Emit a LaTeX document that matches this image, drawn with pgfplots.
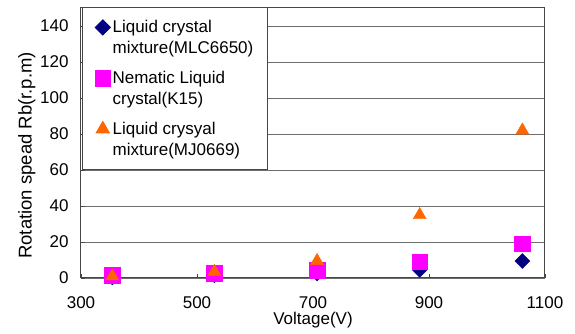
\documentclass[border=0pt]{standalone}
\usepackage{fontspec}
\setmainfont{Liberation Sans}
\usepackage{pgfplots}
\pgfplotsset{compat=1.18}
\definecolor{navyc}{RGB}{0,0,128}
\definecolor{magc}{RGB}{255,0,255}
\definecolor{orc}{RGB}{255,102,0}
\definecolor{gridc}{RGB}{110,110,110}
\definecolor{axc}{RGB}{70,70,70}
\begin{document}
\begin{tikzpicture}[x=1pt,y=1pt]
\path[use as bounding box] (0,0) rectangle (575,334);
\begin{axis}[
  at={(81pt,56pt)}, anchor=south west,
  scale only axis, width=464pt, height=270pt,
  xmin=300, xmax=1100, ymin=0, ymax=150,
  xtick={300,500,...,1100}, ytick={0,20,...,140},
  xtick pos=left, ytick pos=left,
  tick align=inside, major tick length=4pt,
  ymajorgrids, grid style={gridc, line width=0.8pt},
  axis line style={axc, line width=1pt},
  tick style={axc, line width=0.8pt},
  /pgf/number format/assume math mode=true,
  /pgf/number format/1000 sep={},
  ticklabel style={font=\fontsize{17}{20}\selectfont},
  xticklabel style={yshift=-15pt},
  yticklabel style={xshift=-9pt},
  xlabel={Voltage(V)}, ylabel={Rotation spead Rb(r.p.m)},
  label style={font=\fontsize{17}{20}\selectfont},
  xlabel style={at={(axis description cs:0.5,-0.1185)}, anchor=north, inner ysep=2pt},
  ylabel style={at={(axis description cs:-0.0905,0.454)}, anchor=south, font=\fontsize{18.5}{21}\selectfont},
  clip=false,
  legend cell align=left,
  legend style={at={(axis description cs:0,1)}, anchor=north west, xshift=1pt, yshift=1pt,
    draw=axc, line width=1pt, fill=white,
    font=\fontsize{17}{21}\selectfont,
    inner xsep=12.5pt, inner ysep=11pt, row sep=12pt,
    cells={align=left, inner xsep=2pt, inner ysep=0.5pt}},
  legend image code/.code={\draw[#1] plot coordinates {(0pt,10.5pt)};},
]
\addplot[only marks, mark=square*, mark options={rotate=45, fill=navyc, draw=navyc}, mark size=5.3pt, color=navyc]
  coordinates {(354,0.3) (530,1.5) (707,2.5) (884,4.5) (1061,9.4)};
\addlegendentry{Liquid crystal\\mixture(MLC6650)}
\addplot[only marks, mark=square*, mark options={fill=magc, draw=magc}, mark size=7.8pt, color=magc]
  coordinates {(354,1.4) (530,2.8) (707,4.4) (884,9) (1061,19)};
\addlegendentry{Nematic Liquid\\crystal(K15)}
\addplot[only marks, mark=triangle*, mark options={fill=orc, draw=orc}, mark size=7.5pt, color=orc]
  coordinates {(354,1) (530,3.5) (707,9.5) (884,35) (1061,82)};
\addlegendentry{Liquid crysyal\\mixture(MJ0669)}
\end{axis}
\end{tikzpicture}
\end{document}
